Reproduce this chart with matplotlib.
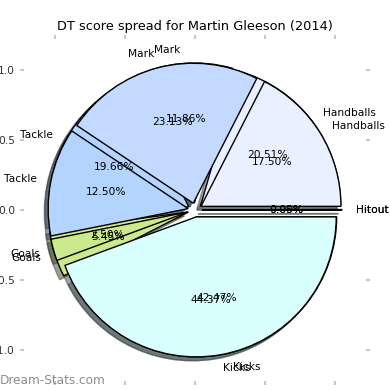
import matplotlib
matplotlib.use('Agg')
import matplotlib.pyplot as plt

# DT score spread, two datasets drawn on top of each other
labels = ['Kicks', 'Goals', 'Tackle', 'Mark', 'Handballs', 'Hitout']
spread_a = [44.37, 2.50, 12.50, 23.13, 17.50, 0.00]
spread_b = [42.47, 5.45, 19.66, 11.86, 20.51, 0.05]
explode_list = [0.05, 0.05, 0.05, 0.05, 0.05, 0.05]
colors = ['#d9ffff', '#cde98e', '#b3d4ff', '#c4d9ff', '#e9f0ff', '#f4f4f4']

fig = plt.figure(figsize=(3.9, 3.9), dpi=100)
ax = fig.add_axes([20 / 390, 5 / 390, 350 / 390, 350 / 390])

for vals in [spread_b, spread_a]:
    wedges, texts, autotexts = ax.pie(
        vals, labels=labels, colors=colors, explode=explode_list,
        autopct='%1.2f%%', shadow=True, startangle=0, counterclock=False,
        wedgeprops={'edgecolor': 'black', 'linewidth': 1},
        textprops={'fontsize': 7.7})

ax.set_xlim(-1.25, 1.25)
ax.set_ylim(-1.25, 1.25)
ax.set_aspect('equal')
ax.set_xticks([-1.0, -0.5, 0.0, 0.5, 1.0])
ax.set_yticks([-1.0, -0.5, 0.0, 0.5, 1.0])
ax.tick_params(direction='in', length=3, width=1.5, color='#c8c8c8',
               top=True, right=True, labelsize=7.7, labelcolor='#333333')
for s in ax.spines.values():
    s.set_visible(False)

ax.set_title('DT score spread for Martin Gleeson (2014)', fontsize=9.25, pad=3.5)
fig.text(0.0, 10 / 390, 'Dream-Stats.com', color='#8c8c8c', fontsize=8.7,
         va='center', ha='left')

plt.savefig('out.png')
